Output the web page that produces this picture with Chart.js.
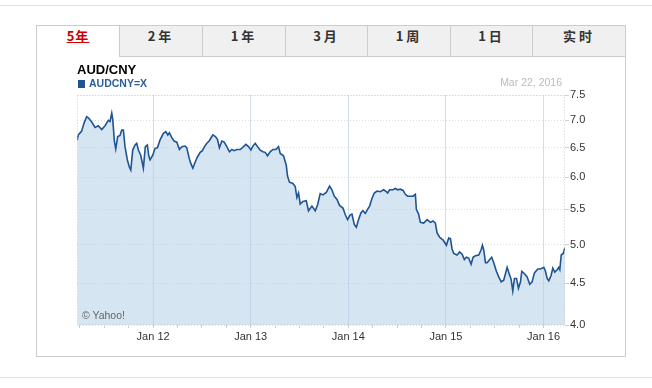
<!DOCTYPE html>
<html>
<head>
<meta charset="utf-8">
<script src="https://cdn.jsdelivr.net/npm/chart.js@4.4.0/dist/chart.umd.min.js"></script>
<style>
  body { margin: 0; width: 652px; height: 388px; background: #fff; position: relative; overflow: hidden;
         font-family: Arial, "Liberation Sans", sans-serif; }
  .rule { position: absolute; left: 0; width: 652px; height: 1px; background: #e2e2e2; }
  #box { position: absolute; left: 36px; top: 25px; width: 588px; height: 330px; border: 1px solid #ccc; background: #fff; }
  .tabs { position: absolute; left: 0; top: 0; width: 588px; height: 31px; display: flex; }
  .tab { height: 30px; line-height: 30px; background: #f0f0f0; border-left: 1px solid #ccc; border-bottom: 1px solid #ccc;
         text-align: center; font: bold 13px "Noto Sans CJK SC", sans-serif; color: #333; letter-spacing: 3px; box-sizing: content-box; }
  .tab.active { background: #fff; border-left: none; border-bottom: 1px solid #fff; color: #c00; letter-spacing: 1px; }
  .tab.active span { text-decoration: underline; }
  #chart { position: absolute; left: 0; top: 0; z-index: 2; }
  .txt { position: absolute; z-index: 3; white-space: nowrap; }
  #title { left: 77px; top: 62px; font: bold 13px/15px Arial, "Liberation Sans", sans-serif; color: #000; }
  #legend { left: 78px; top: 77px; font: bold 10.5px/12px Arial, "Liberation Sans", sans-serif; color: #2b5e97; }
  #legend i { display: inline-block; width: 7px; height: 8px; background: #1f5492; margin-right: 4px; vertical-align: -1px; }
  #date { right: 90px; top: 76px; font: 10.5px/12px Arial, "Liberation Sans", sans-serif; color: #bbb; }
  #credit { left: 82px; top: 309px; font: 10.5px/12px Arial, "Liberation Sans", sans-serif; color: #666; }
</style>
</head>
<body>
<div class="rule" style="top:5px"></div>
<div class="rule" style="top:377px"></div>
<div id="box">
  <div class="tabs">
    <div class="tab active" style="width:82px"><span>5年</span></div>
    <div class="tab" style="width:82px">2年</div>
    <div class="tab" style="width:82px">1年</div>
    <div class="tab" style="width:81px">3月</div>
    <div class="tab" style="width:82px">1周</div>
    <div class="tab" style="width:81px">1日</div>
    <div class="tab" style="flex:1">实时</div>
  </div>
</div>
<div class="txt" id="title">AUD/CNY</div>
<div class="txt" id="legend"><i></i>AUDCNY=X</div>
<div class="txt" id="date">Mar 22, 2016</div>
<div class="txt" id="credit">© Yahoo!</div>
<canvas id="chart" width="652" height="388"></canvas>

<script>
// AUD/CNY, 5 years to Mar 22 2016 (dates as decimal years)
const rateYears = [
  2011.223, 2011.233, 2011.268, 2011.292, 2011.319, 2011.336, 2011.371, 2011.405, 2011.438, 2011.473,
  2011.507, 2011.541, 2011.558, 2011.576, 2011.586, 2011.603, 2011.617, 2011.637, 2011.661, 2011.678,
  2011.695, 2011.712, 2011.736, 2011.756, 2011.771, 2011.791, 2011.815, 2011.832, 2011.849, 2011.873,
  2011.900, 2011.920, 2011.941, 2011.955, 2011.969, 2011.996, 2012.020, 2012.044, 2012.071, 2012.105,
  2012.130, 2012.150, 2012.167, 2012.191, 2012.215, 2012.243, 2012.269, 2012.294, 2012.328, 2012.345,
  2012.369, 2012.386, 2012.407, 2012.430, 2012.454, 2012.482, 2012.505, 2012.526, 2012.550, 2012.574,
  2012.591, 2012.612, 2012.638, 2012.659, 2012.679, 2012.704, 2012.728, 2012.755, 2012.782, 2012.807,
  2012.830, 2012.858, 2012.892, 2012.926, 2012.950, 2012.977, 2013.002, 2013.022, 2013.046, 2013.069,
  2013.097, 2013.125, 2013.148, 2013.172, 2013.199, 2013.227, 2013.258, 2013.285, 2013.302,
  2013.336, 2013.364, 2013.377, 2013.397, 2013.432, 2013.456, 2013.473, 2013.490, 2013.507, 2013.535,
  2013.569, 2013.592, 2013.627, 2013.661, 2013.685, 2013.712, 2013.740, 2013.774, 2013.808, 2013.832,
  2013.856, 2013.884, 2013.910, 2013.945, 2013.969, 2013.992, 2014.020, 2014.037, 2014.061, 2014.082,
  2014.105, 2014.130, 2014.150, 2014.174, 2014.197, 2014.218, 2014.243, 2014.266, 2014.294, 2014.328,
  2014.362, 2014.389, 2014.403, 2014.423, 2014.458, 2014.482, 2014.505, 2014.533, 2014.561, 2014.584,
  2014.608, 2014.635, 2014.663, 2014.687, 2014.697, 2014.720,
  2014.738, 2014.772, 2014.807, 2014.841, 2014.868, 2014.892, 2014.909, 2014.936, 2014.971, 2015.005,
  2015.028, 2015.046, 2015.063, 2015.080, 2015.114, 2015.141, 2015.166, 2015.189, 2015.210, 2015.233,
  2015.258, 2015.278, 2015.302, 2015.336, 2015.361, 2015.374, 2015.387, 2015.405, 2015.422, 2015.449,
  2015.469, 2015.490, 2015.517, 2015.541, 2015.566, 2015.592, 2015.610, 2015.627, 2015.648, 2015.668,
  2015.685, 2015.702, 2015.723, 2015.743, 2015.764, 2015.777, 2015.805, 2015.832, 2015.859, 2015.883,
  2015.907, 2015.941, 2015.969, 2016.003, 2016.020, 2016.037, 2016.054, 2016.078, 2016.095, 2016.115,
  2016.140, 2016.156, 2016.167, 2016.181, 2016.202, 2016.215, 2016.220
];

const rateValues = [
  6.64, 6.73, 6.80, 6.95, 7.07, 7.05, 6.97, 6.87, 6.90, 6.83,
  6.90, 7.00, 6.98, 7.14, 7.02, 6.62, 6.48, 6.70, 6.72, 6.82,
  6.82, 6.52, 6.29, 6.17, 6.12, 6.46, 6.55, 6.58, 6.46, 6.37,
  6.15, 6.52, 6.55, 6.36, 6.29, 6.37, 6.49, 6.50, 6.64, 6.76,
  6.79, 6.73, 6.77, 6.68, 6.62, 6.60, 6.47, 6.52, 6.53, 6.50,
  6.32, 6.23, 6.15, 6.25, 6.34, 6.42, 6.45, 6.52, 6.58, 6.62,
  6.67, 6.73, 6.70, 6.65, 6.50, 6.62, 6.60, 6.52, 6.43, 6.47,
  6.45, 6.47, 6.47, 6.52, 6.56, 6.52, 6.46, 6.53, 6.58, 6.52,
  6.46, 6.43, 6.42, 6.36, 6.43, 6.47, 6.47, 6.52, 6.40,
  6.36, 6.20, 6.02, 5.92, 5.90, 5.85, 5.68, 5.75, 5.58, 5.62,
  5.63, 5.48, 5.55, 5.48, 5.57, 5.74, 5.72, 5.76, 5.86, 5.80,
  5.70, 5.65, 5.56, 5.52, 5.42, 5.35, 5.42, 5.43, 5.28, 5.24,
  5.35, 5.45, 5.48, 5.44, 5.50, 5.55, 5.67, 5.75, 5.78, 5.77,
  5.80, 5.77, 5.75, 5.80, 5.80, 5.82, 5.80, 5.81, 5.79, 5.73,
  5.70, 5.70, 5.70, 5.73, 5.50, 5.43,
  5.31, 5.30, 5.35, 5.31, 5.33, 5.30, 5.16, 5.10, 5.06, 4.99,
  5.09, 5.08, 4.94, 4.88, 4.86, 4.90, 4.87, 4.80, 4.83, 4.82,
  4.74, 4.83, 4.85, 4.86, 4.93, 4.99, 4.93, 4.76, 4.76, 4.80,
  4.83, 4.76, 4.65, 4.58, 4.52, 4.54, 4.62, 4.70, 4.62, 4.55,
  4.41, 4.56, 4.56, 4.44, 4.52, 4.65, 4.62, 4.58, 4.49, 4.52,
  4.63, 4.68, 4.68, 4.70, 4.65, 4.56, 4.53, 4.60, 4.69, 4.64,
  4.67, 4.70, 4.67, 4.86, 4.88, 4.94, 4.96
];

const xTickYears = [2012, 2013, 2014, 2015, 2016];
const xTickLabels = ['Jan 12', 'Jan 13', 'Jan 14', 'Jan 15', 'Jan 16'];
const yTickValues = [4.0, 4.5, 5.0, 5.5, 6.0, 6.5, 7.0, 7.5];

const X_MIN = 2011.22, X_MAX = 2016.22;
const Y_MIN = 4.02, Y_MAX = 7.5;

Chart.defaults.font.family = 'Arial, "Liberation Sans", sans-serif';
Chart.defaults.font.size = 11;
Chart.defaults.color = '#333';

// dotted frame round the plot
const plotFrame = {
    id: 'plotFrame',
    afterDatasetsDraw(chart) {
        const { ctx, chartArea: a } = chart;
        ctx.save();
        ctx.strokeStyle = '#cfcfcf';
        ctx.lineWidth = 1;
        ctx.setLineDash([1, 2]);
        ctx.strokeRect(a.left + 0.5, a.top + 0.5, a.width - 1, a.height - 1);
        ctx.restore();
    }
};

const isYear = v => Math.abs(v - Math.round(v)) < 1e-6;

new Chart(document.getElementById('chart'), {
    type: 'line',
    data: {
        datasets: [{
            label: 'AUDCNY=X',
            data: rateYears.map((x, i) => ({ x: x, y: rateValues[i] })),
            borderColor: '#1f5492',
            borderWidth: 1.6,
            backgroundColor: 'rgba(173, 203, 229, 0.5)',
            fill: 'start',
            pointRadius: 0,
            tension: 0
        }]
    },
    options: {
        responsive: false,
        animation: false,
        devicePixelRatio: 1,
        layout: { padding: { left: 77, top: 95, right: 57, bottom: 43 } },
        plugins: { legend: { display: false }, tooltip: { enabled: false } },
        scales: {
            x: {
                type: 'linear',
                min: X_MIN,
                max: X_MAX,
                bounds: 'data',
                afterBuildTicks: axis => {
                    const ticks = [];
                    for (let y = 2011; y <= 2016; y++) {
                        [0, 0.25, 0.5, 0.75].forEach(q => {
                            const v = y + q;
                            if (v >= X_MIN && v <= X_MAX) ticks.push({ value: v });
                        });
                    }
                    axis.ticks = ticks;
                },
                afterFit: axis => { axis.height = 20; },
                ticks: {
                    autoSkip: false,
                    maxRotation: 0,
                    padding: 2,
                    color: '#333',
                    callback: v => {
                        const i = xTickYears.indexOf(Math.round(v));
                        return isYear(v) && i >= 0 ? xTickLabels[i] : '';
                    }
                },
                grid: {
                    color: c => (c.tick && isYear(c.tick.value)) ? '#d2deea' : 'rgba(0,0,0,0)',
                    tickColor: '#cccccc',
                    tickLength: 3,
                    lineWidth: 1
                },
                border: { display: false }
            },
            y: {
                type: 'logarithmic',
                position: 'right',
                min: Y_MIN,
                max: Y_MAX,
                bounds: 'data',
                afterBuildTicks: axis => {
                    axis.ticks = yTickValues.map(v => ({ value: Math.max(v, Y_MIN) }));
                },
                afterFit: axis => { axis.width = 30; },
                ticks: {
                    autoSkip: false,
                    padding: 1,
                    color: '#333',
                    callback: v => Number(v).toFixed(1)
                },
                grid: {
                    color: '#d6e0ea',
                    tickColor: '#cfcfcf',
                    tickLength: 4
                },
                border: { display: false, dash: [1, 2] }
            }
        }
    },
    plugins: [plotFrame]
});
</script>
</body>
</html>
